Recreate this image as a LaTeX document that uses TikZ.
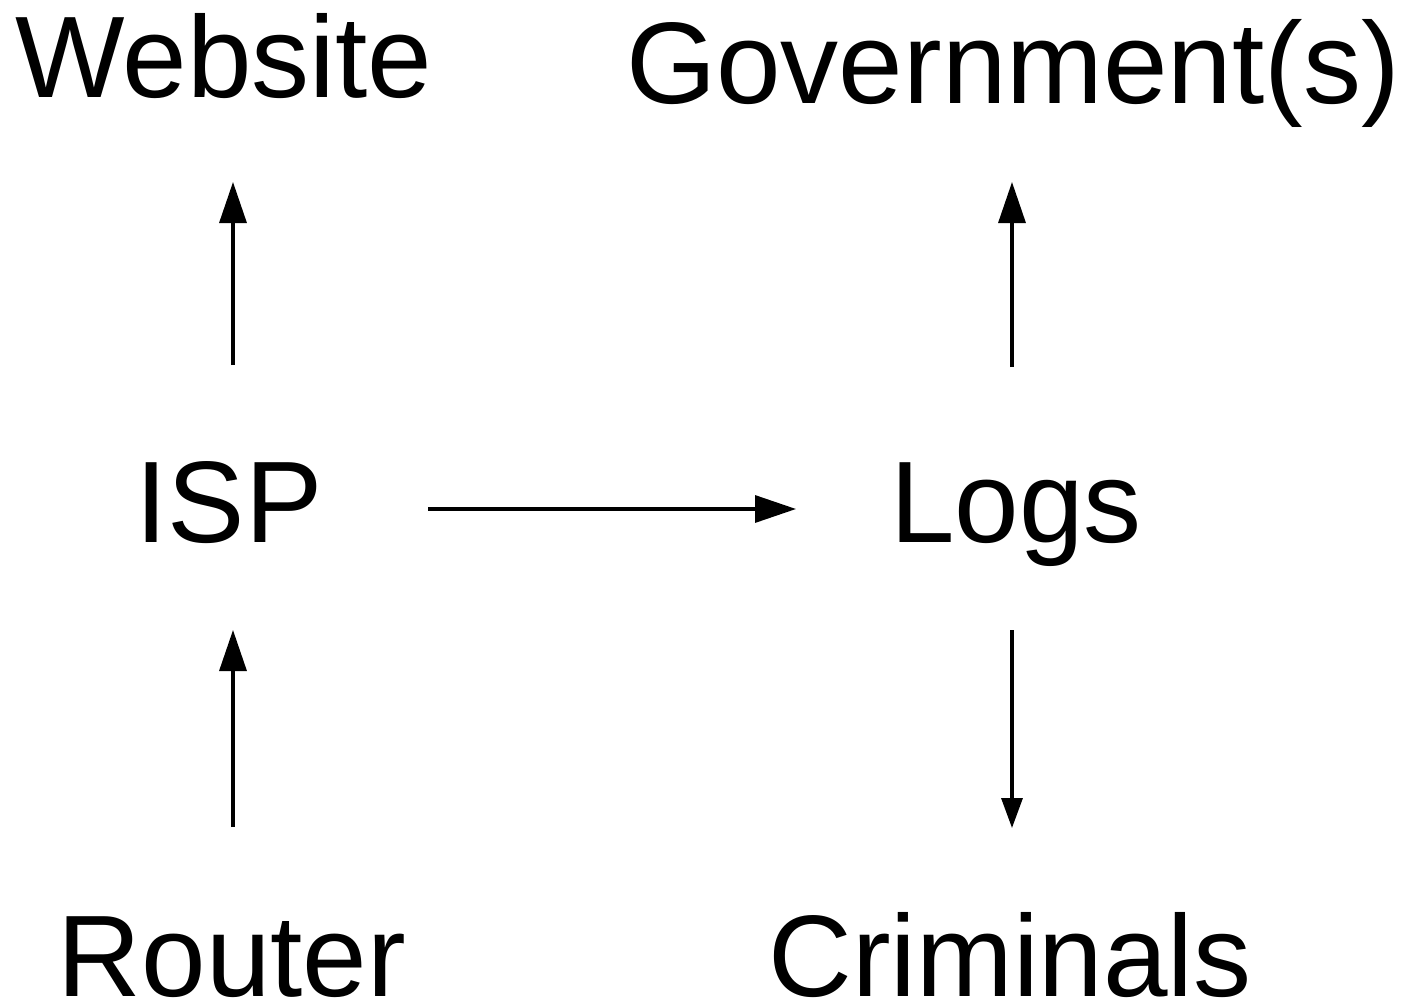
\documentclass[tikz,border=0pt]{standalone}
\usepackage{fontspec}
\setmainfont{Liberation Sans}
\usetikzlibrary{arrows.meta}
\begin{document}
\begin{tikzpicture}[x=1pt,y=-1pt,
  lbl/.style={inner sep=0pt, anchor=base, font=\fontsize{116}{139}\selectfont},
  arr/.style={line width=3.3pt, -{Triangle[length=41pt,width=27pt]}},
  arrsmall/.style={line width=3.3pt, -{Triangle[length=30pt,width=21pt]}}]
\useasboundingbox (0,0) rectangle (1411,1001);
\node[lbl] (web) at (224,97) {Website};
\node[lbl] (gov) at (1013,103) {Government(s)};
\node[lbl] (isp) at (229,542) {ISP};
\node[lbl] (logs) at (1016,542) {Logs};
\node[lbl] (router) at (232,996) {Router};
\node[lbl] (crim) at (1010,996) {Criminals};
\draw[arr] ([shift={(4,-177)}]isp.base) -- ([shift={(9,85)}]web.base);
\draw[arr] ([shift={(1,-169)}]router.base) -- ([shift={(4,88)}]isp.base);
\draw[arr] ([shift={(199,-33)}]isp.base) -- ([shift={(-220,-33)}]logs.base);
\draw[arr] ([shift={(-4,-175)}]logs.base) -- ([shift={(-1,79)}]gov.base);
\draw[arrsmall] ([shift={(-4,88)}]logs.base) -- ([shift={(2,-168)}]crim.base);
\end{tikzpicture}
\end{document}
